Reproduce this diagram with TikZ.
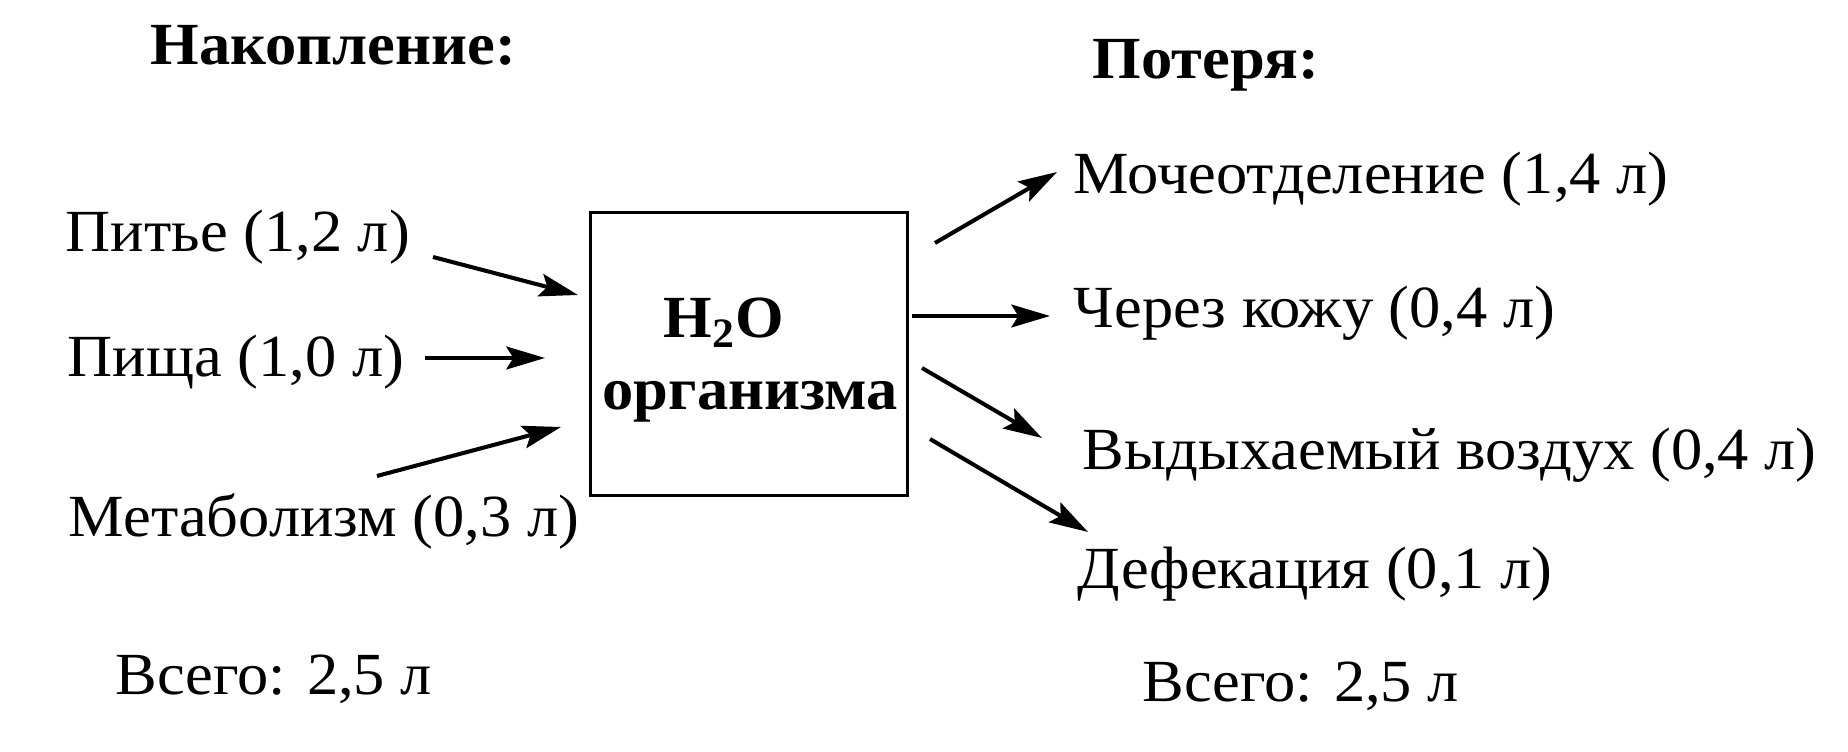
\documentclass[tikz,border=0pt]{standalone}
\usepackage{fontspec}
\setmainfont[FakeStretch=1.045]{Liberation Serif}
\usepackage{xcolor}
\usepackage{tikz}
\usetikzlibrary{calc,arrows.meta}
\definecolor{bg}{HTML}{FFFFFF}
\definecolor{ink}{HTML}{000000}
\tikzset{
  base/.style={draw=ink, line width=0.85pt},
  arr/.style={draw=ink, line width=1.15pt, -{Stealth[length=11pt,width=6.5pt,inset=2pt]}},
  lab/.style={text=ink, anchor=base west, inner sep=0pt, font=\fontsize{17}{20}\selectfont},
  labb/.style={lab, font=\fontsize{17}{20}\selectfont\bfseries},
}

\begin{document}
\begin{tikzpicture}[x=0.01cm,y=-0.01cm]
  \useasboundingbox[fill=bg] (0,0) rectangle (1848,752);
  % box
  \node[base, minimum width=3.16cm, minimum height=2.82cm, inner sep=0pt] (water) at (749,354) {};
  \node[labb] (h2o) at (663,338) {H\textsubscript{2}O};
  \node[labb] (org) at (602,410) {организма};
  % in
  \node[labb] (nakop) at (150,65) {Накопление:};
  \node[lab] (drink) at (65,252) {Питье (1,2 л)};
  \node[lab] (food) at (67,377) {Пища (1,0 л)};
  \node[lab] (metab) at (68,537) {Метаболизм (0,3 л)};
  \node[lab] (totin) at (115,694) {Всего: 2,5 л};
  % out
  \node[labb] (poter) at (1092,79) {Потеря:};
  \node[lab] (urine) at (1073,194) {Мочеотделение (1,4 л)};
  \node[lab] (skin) at (1073,328) {Через кожу (0,4 л)};
  \node[lab] (breath) at (1082,470) {Выдыхаемый воздух (0,4 л)};
  \node[lab] (feces) at (1077,589) {Дефекация (0,1 л)};
  \node[lab] (totout) at (1142,702) {Всего: 2,5 л};
  % arrow ends
  \coordinate (i1a) at (433,257); \coordinate (i1b) at (578,295);
  \coordinate (i2a) at (425,358); \coordinate (i2b) at (545,358);
  \coordinate (i3a) at (377,476); \coordinate (i3b) at (561,427);
  \coordinate (o1a) at (935,243); \coordinate (o1b) at (1057,172);
  \coordinate (o2a) at (912,316); \coordinate (o2b) at (1050,316);
  \coordinate (o3a) at (922,368); \coordinate (o3b) at (1042,438);
  \coordinate (o4a) at (930,439); \coordinate (o4b) at (1088,532);
  \draw[arr] (i1a) -- (i1b);
  \draw[arr] (i2a) -- (i2b);
  \draw[arr] (i3a) -- (i3b);
  \draw[arr] (o1a) -- (o1b);
  \draw[arr] (o2a) -- (o2b);
  \draw[arr] (o3a) -- (o3b);
  \draw[arr] (o4a) -- (o4b);
\end{tikzpicture}
\end{document}
